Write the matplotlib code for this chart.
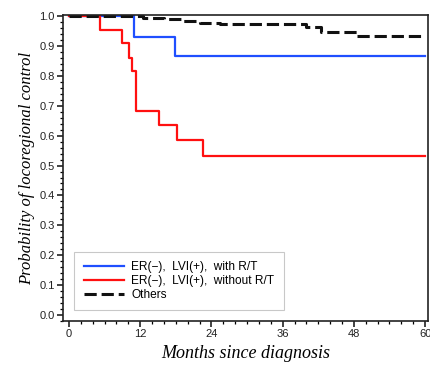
import matplotlib
matplotlib.use("Agg")
import matplotlib.pyplot as plt
from matplotlib.ticker import MultipleLocator

# Kaplan-Meier step data (months, probability)
blue_t = [0, 10.9, 17.9, 60]
blue_s = [1.0, 0.93, 0.865, 0.865]

red_t = [0, 5.3, 8.9, 10.2, 10.7, 11.3, 15.1, 18.2, 22.6, 60]
red_s = [1.0, 0.955, 0.91, 0.86, 0.818, 0.684, 0.636, 0.586, 0.532, 0.532]

oth_t = [0, 12.5, 16, 19, 22, 25.5, 40, 42.5, 48.5, 60]
oth_s = [1.0, 0.995, 0.99, 0.985, 0.978, 0.972, 0.962, 0.948, 0.935, 0.935]

labels = ["ER(\u2212),  LVI(+),  with R/T",
          "ER(\u2212),  LVI(+),  without R/T",
          "Others"]

plt.rcParams["font.family"] = ["Liberation Sans", "DejaVu Sans"]

fig = plt.figure(figsize=(4.3, 3.68), dpi=100)
ax = fig.add_axes([0.1465, 0.1277, 0.849, 0.831])

ax.step(blue_t, blue_s, where="post", color="#1f4fff", lw=1.6, label=labels[0])
ax.step(red_t, red_s, where="post", color="#ff1010", lw=1.6, label=labels[1])
ax.step(oth_t, oth_s, where="post", color="#111111", lw=2.2,
        dashes=(4, 1.6), label=labels[2])

ax.set_xlim(-1, 60.5)
ax.set_ylim(-0.02, 1.003)
ax.xaxis.set_major_locator(MultipleLocator(12))
ax.xaxis.set_minor_locator(MultipleLocator(2))
ax.yaxis.set_major_locator(MultipleLocator(0.1))
ax.yaxis.set_minor_locator(MultipleLocator(0.02))
ax.tick_params(which="major", direction="out", length=4, width=1.2,
               labelsize=8, colors="#222222", pad=2)
ax.tick_params(which="minor", direction="out", length=2.5, width=0.9)
ax.set_yticks([i / 10 for i in range(11)])
ax.set_yticklabels([f"{i/10:.1f}" for i in range(11)])
for sp in ax.spines.values():
    sp.set_linewidth(1.2)
    sp.set_color("#222222")

ax.set_xlabel("Months since diagnosis", family="Liberation Serif",
              style="italic", fontsize=13, labelpad=4)
ax.set_ylabel("Probability of locoregional control", family="Liberation Serif",
              style="italic", fontsize=12, labelpad=3)

leg = ax.legend(loc="lower left", bbox_to_anchor=(0.03, 0.035), fontsize=8.6,
                frameon=True, fancybox=False, edgecolor="#bbbbbb",
                handlelength=3.4, handletextpad=0.6, borderpad=0.8,
                labelspacing=0.15, borderaxespad=0.0)
leg.get_frame().set_linewidth(0.8)

fig.savefig("out.png", dpi=100)
